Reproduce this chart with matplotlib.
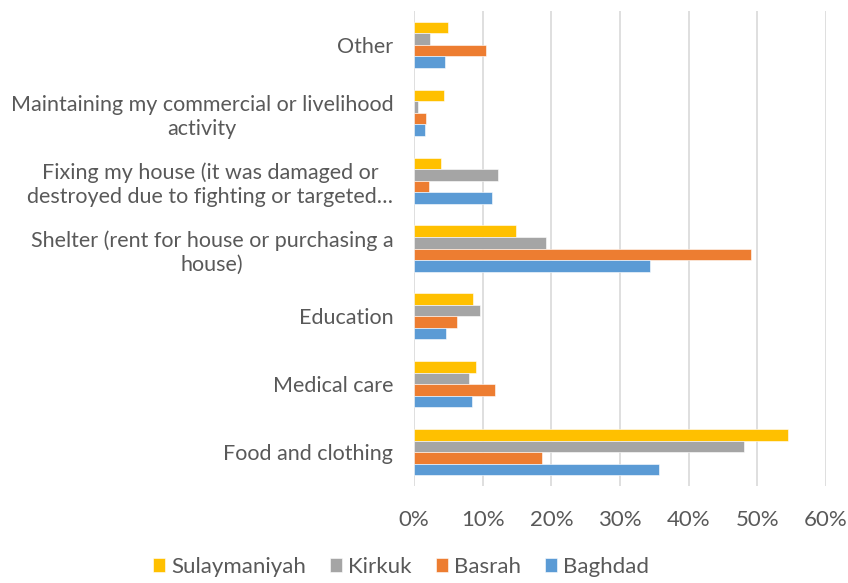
import matplotlib
matplotlib.use("Agg")
import matplotlib.pyplot as plt
import numpy as np
from matplotlib.ticker import FuncFormatter

categories = [
    "Food and clothing",
    "Medical care",
    "Education",
    "Shelter (rent for house or purchasing a\nhouse)",
    "Fixing my house (it was damaged or\ndestroyed due to fighting or targeted\u2026",
    "Maintaining my commercial or livelihood\nactivity",
    "Other",
]
series_names = ["Sulaymaniyah", "Kirkuk", "Basrah", "Baghdad"]
sulaymaniyah = [54.5, 9.0, 8.6, 14.9, 3.9, 4.3, 5.0]
kirkuk = [48.1, 8.0, 9.6, 19.2, 12.3, 0.6, 2.4]
basrah = [18.7, 11.8, 6.2, 49.1, 2.2, 1.7, 10.5]
baghdad = [35.7, 8.5, 4.7, 34.3, 11.3, 1.6, 4.5]
x_ticks = [0, 10, 20, 30, 40, 50, 60]

colors = ["#FFC000", "#A5A5A5", "#ED7D31", "#5B9BD5"]
text_color = "#595959"

plt.rcParams['font.family'] = ['Lato', 'DejaVu Sans']

fig = plt.figure(figsize=(8.48, 5.83), dpi=100)
ax = fig.add_axes([414/848, 1 - 486/583, (826 - 414)/848, (486 - 11)/583])

y = np.arange(len(categories))
h = 0.17
data = [sulaymaniyah, kirkuk, basrah, baghdad]
offsets = [1.5 * h, 0.5 * h, -0.5 * h, -1.5 * h]
for vals, off, c, name in zip(data, offsets, colors, series_names):
    ax.barh(y + off, np.array(vals) / 100.0, height=h, color=c, label=name,
            edgecolor='white', linewidth=0.4, zorder=3)

ax.set_xlim(0, 0.6)
ax.set_ylim(-0.5, len(categories) - 0.5)
ax.set_xticks([t / 100.0 for t in x_ticks])
ax.xaxis.set_major_formatter(FuncFormatter(lambda v, p: f"{v*100:.0f}%"))
ax.set_yticks(y)
ax.set_yticklabels(categories, multialignment='center', linespacing=1.25)

for s in ax.spines.values():
    s.set_visible(False)
ax.grid(axis='x', color='#D9D9D9', linewidth=1.2, zorder=0)
ax.tick_params(axis='x', length=0, pad=17, labelsize=16, labelcolor=text_color)
ax.tick_params(axis='y', length=0, pad=15, labelsize=15.5, labelcolor=text_color)

leg = fig.legend(loc='center', bbox_to_anchor=(401/848, 1 - 567/583), ncol=4,
                 frameon=False, fontsize=16, handlelength=0.55, handleheight=0.55,
                 handletextpad=0.25, columnspacing=1.1)
for t in leg.get_texts():
    t.set_color(text_color)

fig.savefig("out.png", dpi=100)
